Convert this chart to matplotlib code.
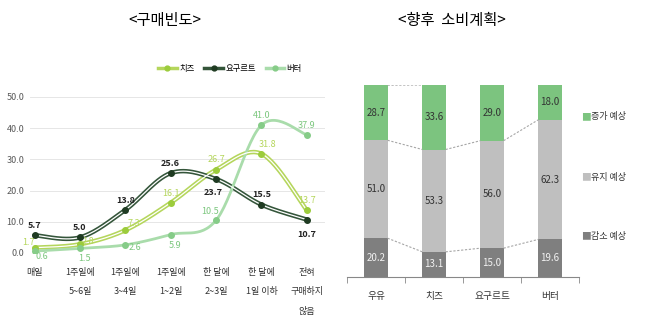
import matplotlib.pyplot as plt
import numpy as np

plt.rcParams['font.family'] = ['Noto Sans CJK KR', 'DejaVu Sans']

# left chart: purchase frequency (%)
freq_labels = ['매일', '1주일에\n5~6일', '1주일에\n3~4일', '1주일에\n1~2일',
               '한 달에\n2~3일', '한 달에\n1일 이하', '전혀\n구매하지\n않음']
cheese = [1.7, 2.8, 7.3, 16.1, 26.7, 31.8, 13.7]
yogurt = [5.7, 5.0, 13.8, 25.6, 23.7, 15.5, 10.7]
butter = [0.6, 1.5, 2.6, 5.9, 10.5, 41.0, 37.9]

# right chart: future consumption plan (%)
products = ['우유', '치즈', '요구르트', '버터']
decrease = [20.2, 13.1, 15.0, 19.6]
keep = [51.0, 53.3, 56.0, 62.3]
increase = [28.7, 33.6, 29.0, 18.0]


def smooth(y, n=30):
    # catmull-rom curve through the points (like excel smoothed lines)
    x = np.arange(len(y), dtype=float)
    y = np.asarray(y, dtype=float)
    px = np.concatenate([[x[0]], x, [x[-1]]])
    py = np.concatenate([[y[0]], y, [y[-1]]])
    xs, ys = [], []
    t = np.linspace(0, 1, n)
    for i in range(1, len(px) - 2):
        for p, out in ((px, xs), (py, ys)):
            p0, p1, p2, p3 = p[i - 1], p[i], p[i + 1], p[i + 2]
            out.extend(0.5 * ((2 * p1) + (-p0 + p2) * t
                              + (2 * p0 - 5 * p1 + 4 * p2 - p3) * t ** 2
                              + (-p0 + 3 * p1 - 3 * p2 + p3) * t ** 3))
    return np.array(xs), np.array(ys)


fig = plt.figure(figsize=(6.52, 3.29), dpi=100)

fig.text(165 / 652, 1 - 20 / 329, '<구매빈도>', ha='center', va='center', fontsize=11)
fig.text(452 / 652, 1 - 20 / 329, '<향후  소비계획>', ha='center', va='center', fontsize=11)

# ---- left: line chart ----
ax = fig.add_axes([30 / 652, 1 - 253 / 329, 295 / 652, 156 / 329])
x = np.arange(len(freq_labels))

series = [
    ('치즈', cheese, '#b5d65c', '#9ccc3c', True),
    ('요구르트', yogurt, '#34553a', '#1f3b22', True),
    ('버터', butter, '#a9dcab', '#86cc88', False),
]
for name, vals, col, mcol, double in series:
    sx, sy = smooth(vals)
    ax.plot(sx, sy, color=col, lw=3.2 if double else 2.0, solid_capstyle='round', zorder=2)
    if double:
        ax.plot(sx, sy, color='white', lw=0.9, zorder=3)
    ax.plot(x, vals, 'o', color=mcol, ms=4, zorder=4)
    ax.plot([], [], color=col, lw=2.5, marker='o', ms=3.5, mfc=mcol, mec=mcol, label=name)

# data labels
yog_off = [(0, 7), (0, 7), (0, 7), (0, 7), (-2, -10), (0, 7), (0, -11)]
for xi, v, (dx, dy) in zip(x, yogurt, yog_off):
    ax.annotate(f'{v:.1f}', (xi, v), xytext=(dx, dy), textcoords='offset points',
                ha='center', va='center', fontsize=6.5, fontweight='bold', color='#222222')
che_off = [(-4, 4), (6, 2), (6, 5), (0, 7), (0, 7), (4, 7), (0, 7)]
for xi, v, (dx, dy) in zip(x, cheese, che_off):
    ax.annotate(f'{v:.1f}', (xi, v), xytext=(dx, dy), textcoords='offset points',
                ha='center', va='center', fontsize=6.5, style='italic', color='#b5d65c')
but_off = [(5, -4), (3, -7), (7, -2), (3, -8), (-4, 6), (0, 7), (0, 7)]
for xi, v, (dx, dy) in zip(x, butter, but_off):
    ax.annotate(f'{v:.1f}', (xi, v), xytext=(dx, dy), textcoords='offset points',
                ha='center', va='center', fontsize=6.5, color='#7cc77e')

ax.set_xlim(-0.1, 6.4)
ax.set_ylim(0, 50)
ax.set_yticks(np.arange(0, 51, 10))
ax.set_yticklabels([f'{v:.1f}' for v in np.arange(0, 51, 10)], fontsize=6.5, color='#595959')
ax.set_xticks(x)
ax.set_xticklabels(freq_labels, fontsize=6.5, color='#333333', linespacing=2.45, va='top')
ax.tick_params(length=0, pad=11)
ax.tick_params(axis='y', pad=4)
ax.grid(axis='y', color='#e6e6e6', lw=0.7)
ax.set_axisbelow(True)
for s in ax.spines.values():
    s.set_visible(False)
ax.legend(loc='center', bbox_to_anchor=(230 / 652, 1 - 68 / 329), bbox_transform=fig.transFigure,
          ncol=3, frameon=False, fontsize=6, handlelength=2.2, columnspacing=1.2, handletextpad=0.3)

# ---- right: stacked bars ----
bx = fig.add_axes([347 / 652, 1 - 277 / 329, 232 / 652, 192 / 329])
pos = np.arange(len(products))
w = 0.4
bottoms2 = np.array(decrease) + np.array(keep)
bx.bar(pos, decrease, w, color='#7f7f7f')
bx.bar(pos, keep, w, bottom=decrease, color='#bfbfbf')
bx.bar(pos, increase, w, bottom=bottoms2, color='#7cc47f')

# series lines between bars
for lvl in (np.array(decrease), bottoms2):
    for i in range(len(pos) - 1):
        bx.plot([pos[i] + w / 2, pos[i + 1] - w / 2], [lvl[i], lvl[i + 1]],
                ls=(0, (2, 1.5)), color='#a6a6a6', lw=0.8)
tops = bottoms2 + np.array(increase)
bx.plot([pos[0] + w / 2, pos[1] - w / 2], [tops[0], tops[1]], ls=(0, (2, 1.5)), color='#a6a6a6', lw=0.8)

for i in pos:
    bx.text(i, decrease[i] / 2, f'{decrease[i]:.1f}', ha='center', va='center', fontsize=7, color='#f2f2f2')
    bx.text(i, decrease[i] + keep[i] / 2, f'{keep[i]:.1f}', ha='center', va='center', fontsize=7, color='#333333')
    bx.text(i, bottoms2[i] + increase[i] / 2, f'{increase[i]:.1f}', ha='center', va='center', fontsize=7, color='#333333')

bx.set_xlim(-0.5, 3.5)
bx.set_ylim(0, 100)
bx.set_yticks([])
bx.set_xticks(pos)
bx.set_xticklabels(products, fontsize=7, color='#333333')
bx.set_xticks(np.arange(-0.5, 3.6, 1), minor=True)
bx.tick_params(axis='x', which='major', length=0, pad=10)
bx.tick_params(axis='x', which='minor', length=4, color='#888888', direction='out')
for s in ('top', 'right', 'left'):
    bx.spines[s].set_visible(False)
bx.spines['bottom'].set_color('#888888')

for label, col, yy in (('증가 예상', '#7cc47f', 117), ('유지 예상', '#bfbfbf', 177), ('감소 예상', '#7f7f7f', 236)):
    fig.text(581 / 652, 1 - yy / 329, '■', color=col, fontsize=7, va='center', ha='left')
    fig.text(591 / 652, 1 - yy / 329, label, color='#333333', fontsize=6.5, va='center', ha='left')

fig.savefig('out.png', dpi=100)
